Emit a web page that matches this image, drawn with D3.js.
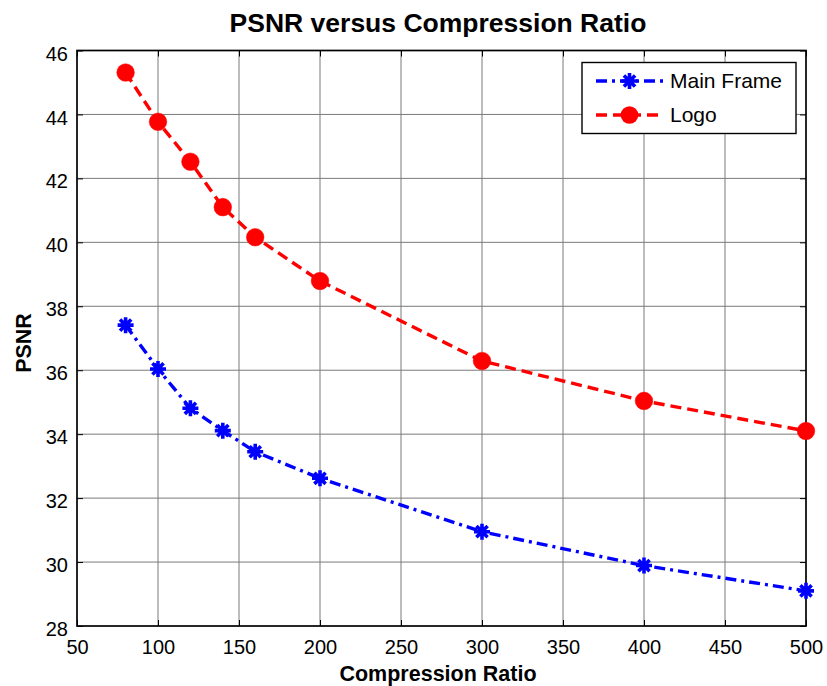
<!DOCTYPE html>
<html><head><meta charset="utf-8">
<script src="https://cdn.jsdelivr.net/npm/d3@7"></script>
<style>
html,body{margin:0;padding:0;background:#fff;}
svg{display:block;font-family:Arial,"Liberation Sans",sans-serif;}
</style></head>
<body>
<svg id="chart" width="827" height="686"></svg>
<script>
const compressionRatio = [80, 100, 120, 140, 160, 200, 300, 400, 500];
const mainFrame = [37.41, 36.04, 34.81, 34.11, 33.45, 32.62, 30.95, 29.89, 29.10];
const logo = [45.31, 43.77, 42.52, 41.10, 40.16, 38.79, 36.29, 35.04, 34.10];
const xTicks = [50, 100, 150, 200, 250, 300, 350, 400, 450, 500];
const yTicks = [28, 30, 32, 34, 36, 38, 40, 42, 44, 46];
const seriesNames = ["Main Frame", "Logo"];

const svg = d3.select("#chart");
const W = 827, H = 686;
const L = 77, T = 50.5, R = 806, B = 626;

const x = d3.scaleLinear().domain([50, 500]).range([L, R]);
const y = d3.scaleLinear().domain([28, 46]).range([B, T]);

svg.append("rect").attr("width", W).attr("height", H).attr("fill", "#fff");

// grid
const grid = svg.append("g");
grid.selectAll("line.vx").data(xTicks.slice(1, -1)).join("line")
  .attr("x1", d => x(d)).attr("x2", d => x(d)).attr("y1", T).attr("y2", B)
  .attr("stroke", "#7a7a7a").attr("stroke-width", 1);
grid.selectAll("line.hy").data(yTicks.slice(1, -1)).join("line")
  .attr("y1", d => y(d)).attr("y2", d => y(d)).attr("x1", L).attr("x2", R)
  .attr("stroke", "#7a7a7a").attr("stroke-width", 1);

// axes with inward ticks
const fontTick = 20;
const xAxisB = d3.axisBottom(x).tickValues(xTicks).tickSize(-6).tickPadding(14).tickFormat(d3.format("d"));
const xAxisT = d3.axisTop(x).tickValues(xTicks).tickSize(-6).tickFormat("");
const yAxisL = d3.axisLeft(y).tickValues(yTicks).tickSize(-6).tickPadding(9).tickFormat(d3.format("d"));
const yAxisR = d3.axisRight(y).tickValues(yTicks).tickSize(-6).tickFormat("");

function styleAxis(g) {
  g.select(".domain").remove();
  g.selectAll(".tick line").attr("stroke", "#000").attr("stroke-width", 1);
  g.selectAll(".tick text").attr("fill", "#000").attr("font-size", fontTick)
    .attr("font-family", "Arial, 'Liberation Sans', sans-serif");
}
svg.append("g").attr("transform", `translate(0,${B})`).call(xAxisB).call(styleAxis)
  .selectAll(".tick text").attr("dy", "0.71em");
svg.append("g").attr("transform", `translate(0,${T})`).call(xAxisT).call(styleAxis);
svg.append("g").attr("transform", `translate(${L},0)`).call(yAxisL).call(styleAxis)
  .selectAll(".tick text").attr("dy", "0.48em");
svg.append("g").attr("transform", `translate(${R},0)`).call(yAxisR).call(styleAxis);

// box
svg.append("rect").attr("x", L).attr("y", T).attr("width", R - L).attr("height", B - T)
  .attr("fill", "none").attr("stroke", "#000").attr("stroke-width", 1.7);

// lines
const pts = (vals) => compressionRatio.map((c, i) => [c, vals[i]]);
const line = d3.line().x(d => x(d[0])).y(d => y(d[1]));

svg.append("path").datum(pts(mainFrame)).attr("d", line)
  .attr("fill", "none").attr("stroke", "#0000ff").attr("stroke-width", 3.4)
  .attr("stroke-dasharray", "11,5,3,5");
svg.append("path").datum(pts(logo)).attr("d", line)
  .attr("fill", "none").attr("stroke", "#ff0000").attr("stroke-width", 3.4)
  .attr("stroke-dasharray", "11,6");

// markers
function asterisk(g, cx, cy, s) {
  const a = s * 0.7;
  const d = `M${cx - s},${cy}L${cx + s},${cy}M${cx},${cy - s}L${cx},${cy + s}` +
            `M${cx - a},${cy - a}L${cx + a},${cy + a}M${cx - a},${cy + a}L${cx + a},${cy - a}`;
  g.append("path").attr("d", d).attr("stroke", "#0000ff").attr("stroke-width", 3.6)
    .attr("fill", "none").attr("stroke-linecap", "butt");
  g.append("circle").attr("cx", cx).attr("cy", cy).attr("r", 4).attr("fill", "#0000ff");
}
const mg = svg.append("g");
pts(mainFrame).forEach(d => asterisk(mg, x(d[0]), y(d[1]), 8));
svg.append("g").selectAll("circle").data(pts(logo)).join("circle")
  .attr("cx", d => x(d[0])).attr("cy", d => y(d[1])).attr("r", 8.8)
  .attr("fill", "#ff0000").attr("stroke", "#ff0000").attr("stroke-width", 0.5);

// title and labels
svg.append("text").attr("x", 438).attr("y", 32).attr("text-anchor", "middle")
  .attr("font-size", 26.5).attr("font-weight", "bold").attr("fill", "#000")
  .text("PSNR versus Compression Ratio");
svg.append("text").attr("x", 438).attr("y", 681).attr("text-anchor", "middle")
  .attr("font-size", 21.5).attr("font-weight", "bold").attr("fill", "#000")
  .text("Compression Ratio");
svg.append("text").attr("transform", "translate(30.5,343) rotate(-90)").attr("text-anchor", "middle")
  .attr("font-size", 21.5).attr("font-weight", "bold").attr("fill", "#000")
  .text("PSNR");

// legend
const lg = svg.append("g");
lg.append("rect").attr("x", 582).attr("y", 62.5).attr("width", 214).attr("height", 71)
  .attr("fill", "#fff").attr("stroke", "#000").attr("stroke-width", 1.4);
const legY = [81, 115];
lg.append("line").attr("x1", 596).attr("x2", 663).attr("y1", legY[0]).attr("y2", legY[0])
  .attr("stroke", "#0000ff").attr("stroke-width", 3.4).attr("stroke-dasharray", "11,5,3,5");
asterisk(lg, 629.5, legY[0], 8);
lg.append("line").attr("x1", 596).attr("x2", 663).attr("y1", legY[1]).attr("y2", legY[1])
  .attr("stroke", "#ff0000").attr("stroke-width", 3.4).attr("stroke-dasharray", "11,6");
lg.append("circle").attr("cx", 629.5).attr("cy", legY[1]).attr("r", 8.8).attr("fill", "#ff0000");
lg.selectAll("text.lt").data(seriesNames).join("text")
  .attr("x", 670).attr("y", (d, i) => legY[i] + 7.4)
  .attr("font-size", 21).attr("fill", "#000").text(d => d);
</script>
</body></html>
